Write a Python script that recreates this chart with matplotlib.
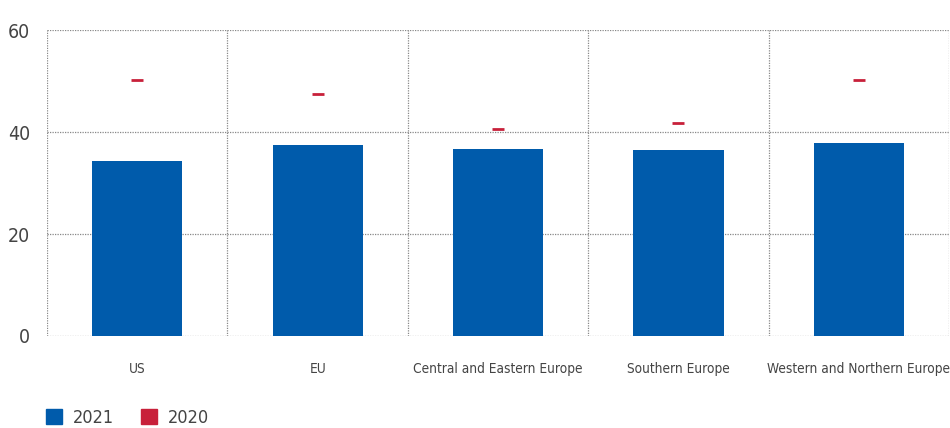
import numpy as np
import matplotlib.pyplot as plt
from matplotlib.patches import Patch

plt.rcParams['font.family'] = ['DejaVu Sans']
plt.rcParams['font.stretch'] = 'condensed'

regions = ['US', 'EU', 'Central and Eastern Europe', 'Southern Europe',
           'Western and Northern Europe']
values_2021 = [34.4, 37.5, 36.7, 36.5, 37.9]
values_2020 = [50.3, 47.5, 40.7, 41.9, 50.3]

blue = '#005BAB'
red = '#C8203A'
text_col = '#444444'

fig = plt.figure(figsize=(9.5, 4.28), dpi=100)
ax = fig.add_axes([0.0495, 0.215, 0.9495, 0.714])

x = np.arange(len(regions))
ax.bar(x, values_2021, width=0.5, color=blue, zorder=3)
ax.scatter(x, values_2020, marker='_', s=80, linewidths=2.0, color=red, zorder=4)

ax.set_xlim(-0.5, len(regions) - 0.5)
ax.set_ylim(0, 60)
ax.set_yticks([0, 20, 40, 60])
ax.set_xticks(x)
ax.set_xticklabels(regions, fontsize=9.8, color=text_col, fontstretch='condensed')
ax.set_xticks(np.arange(-0.5, len(regions)), minor=True)
ax.tick_params(axis='x', which='both', length=0, pad=19)
ax.tick_params(axis='y', length=0, labelsize=14, labelcolor=text_col, pad=12)
for lbl in ax.get_yticklabels():
    lbl.set_fontstretch('condensed')

ax.grid(axis='y', which='major', color='#888888', linestyle=(0, (1, 1)), linewidth=0.9, zorder=0)
ax.grid(axis='x', which='minor', color='#888888', linestyle=(0, (1, 1)), linewidth=0.9, zorder=0)
ax.grid(axis='x', which='major', visible=False)
for s in ax.spines.values():
    s.set_visible(False)

handles = [Patch(color=blue), Patch(color=red)]
fig.legend(handles, ['2021', '2020'], loc='lower left', bbox_to_anchor=(0.031, -0.035),
           ncol=2, frameon=False, prop={'size': 13, 'stretch': 'condensed'},
           labelcolor=text_col, handlelength=0.9, handleheight=0.9,
           handletextpad=0.6, columnspacing=1.5)

fig.savefig('out.png', dpi=100)
